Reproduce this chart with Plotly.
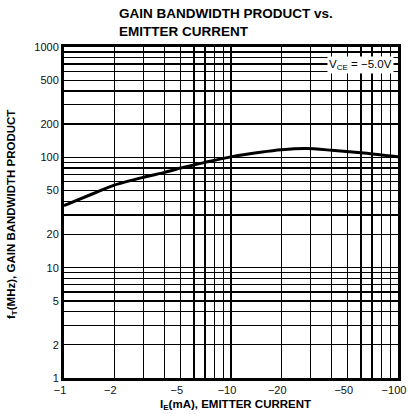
import plotly.graph_objects as go

# Curve data: emitter current magnitude (mA) vs fT (MHz)
ie_ma = [1, 1.5, 2, 3, 4, 5, 7, 10, 15, 20, 28, 40, 60, 100]
ft_mhz = [36.5, 47, 56, 66, 73, 80, 90, 101, 111, 117, 120, 116, 110, 101]

# Grid / tick values
x_grid = [1, 2, 3, 4, 5, 6, 7, 8, 9, 10, 20, 30, 40, 50, 60, 70, 80, 90, 100]
x_labels = {1: "\u22121", 2: "\u22122", 5: "\u22125", 10: "\u221210", 20: "\u221220", 50: "\u221250", 100: "\u2212100"}
y_grid = [1, 2, 3, 4, 5, 6, 7, 8, 9, 10, 20, 30, 40, 50, 60, 70, 80, 90,
          100, 200, 300, 400, 500, 600, 700, 800, 900, 1000]
y_labels = {1: "1", 2: "2", 5: "5", 10: "10", 20: "20", 50: "50", 100: "100", 200: "200", 500: "500", 1000: "1000"}

font_family = "Liberation Sans, Arial, Helvetica, sans-serif"

W, H = 409, 414
PL, PR, PT, PB = 64, 398, 47, 378          # plot area in window pixels
L, R, T, B = PL, W - PR, PT, H - PB
PW, PH = PR - PL, PB - PT


def px(xp):
    return (xp - PL) / PW


def py(yp):
    return (PB - yp) / PH


fig = go.Figure()
fig.add_trace(go.Scatter(
    x=ie_ma, y=ft_mhz, mode="lines",
    line=dict(color="black", width=3, shape="spline", smoothing=0.8),
    hoverinfo="skip", showlegend=False,
))

axis_common = dict(
    type="log", tickmode="array",
    showgrid=True, gridcolor="black", gridwidth=1.3,
    showline=True, linecolor="black", linewidth=3, mirror=True,
    ticks="", zeroline=False, automargin=False,
    tickfont=dict(size=11, color="#111"),
)

fig.update_layout(
    width=W, height=H,
    margin=dict(l=L, r=R, t=T, b=B, autoexpand=False),
    paper_bgcolor="white", plot_bgcolor="white",
    font=dict(family=font_family, color="black", size=11),
    hovermode=False,
    xaxis=dict(axis_common, range=[0, 2], tickvals=x_grid, ticklabelshift=-4,
               ticktext=[x_labels.get(v, "") for v in x_grid]),
    yaxis=dict(axis_common, range=[0, 3], tickvals=y_grid,
               ticktext=[y_labels.get(v, "") for v in y_grid]),
    annotations=[
        dict(text="<b>GAIN BANDWIDTH PRODUCT vs.<br>EMITTER CURRENT</b>",
             xref="paper", yref="paper", x=px(117), y=py(4),
             xanchor="left", yanchor="top", align="left", showarrow=False,
             font=dict(size=13.5, family=font_family, color="black")),
        dict(text="<b>I<sub>E</sub>(mA), EMITTER CURRENT</b>",
             xref="paper", yref="paper", x=px(236), y=py(405),
             xanchor="center", yanchor="middle", showarrow=False,
             font=dict(size=11.5, family=font_family, color="black")),
        dict(text="<b>f<sub>T</sub>(MHz), GAIN BANDWIDTH PRODUCT</b>",
             xref="paper", yref="paper", x=px(12), y=py(215),
             xanchor="center", yanchor="middle", textangle=-90, showarrow=False,
             font=dict(size=11.5, family=font_family, color="black")),
        dict(text="V<sub>CE</sub> = \u22125.0V",
             xref="paper", yref="paper", x=px(394), y=py(56),
             xanchor="right", yanchor="top", showarrow=False,
             bgcolor="white", font=dict(size=11.5, family=font_family, color="black"),
             borderpad=1),
    ],
)

fig.write_html(
    "out.html",
    config={"displayModeBar": False, "staticPlot": True},
    post_script="document.body.style.margin='0';document.documentElement.style.overflow='hidden';",
)
